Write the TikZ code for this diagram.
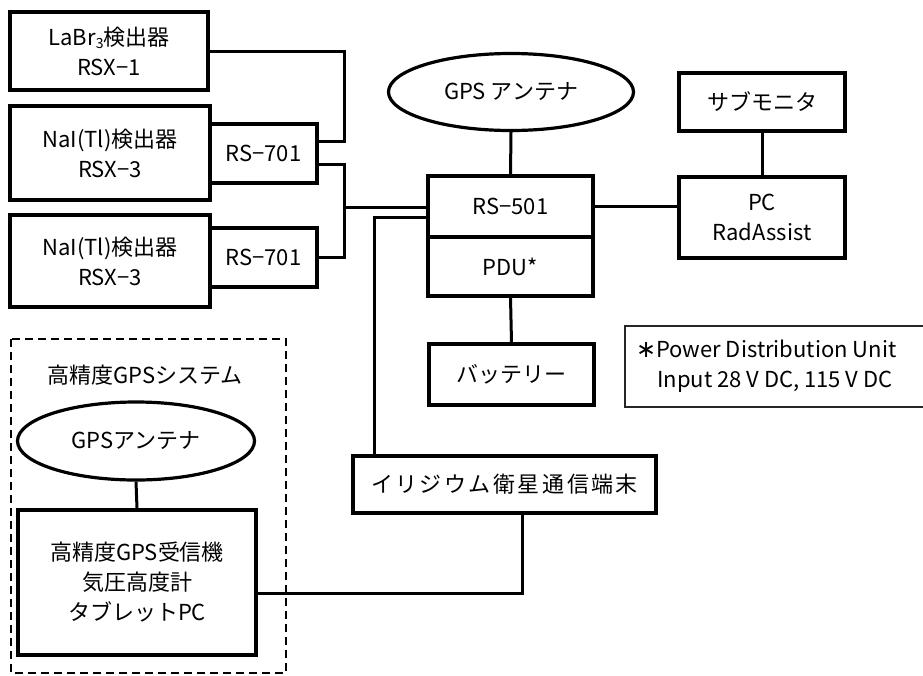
\documentclass[tikz,border=0pt]{standalone}
\usepackage{fontspec}
\setmainfont{Noto Sans CJK JP}
\newfontfamily\symfont{DejaVu Sans}
\usetikzlibrary{shapes.geometric}
\newcommand\lowthree{\raisebox{-0.3ex}{\fontsize{14}{14}\selectfont 3}}
\newcommand\ks{\kern2.5pt}
\newcommand\notestar{\makebox[20pt][l]{{\symfont\fontsize{24}{24}\selectfont ∗}}}
\tikzset{
  txt/.style={font=\fontsize{22}{30}\selectfont, align=center},
  box/.style={txt, draw, rectangle, line width=3.2pt, inner sep=0pt},
  oval/.style={txt, draw, ellipse, line width=3.2pt, inner sep=0pt},
  wire/.style={line width=3pt},
  groupframe/.style={line width=2pt, dash pattern=on 8pt off 5pt},
  notebox/.style={draw=black!85, rectangle, line width=2pt, inner sep=0pt},
}
\begin{document}
\begin{tikzpicture}[x=1pt,y=-1pt]
\clip (0,0) rectangle (923,675);
% detectors
\node[box, minimum width=198pt, minimum height=78pt] (labr) at (109,51) {LaBr\lowthree 検出器\\RSX−1};
\node[box, minimum width=200pt, minimum height=94pt] (nai1) at (110,153) {NaI(Tl)検出器\\RSX−3};
\node[box, minimum width=107pt, minimum height=59pt] (rs701a) at (263.5,153.5) {RS−701};
\node[box, minimum width=200pt, minimum height=92pt] (nai2) at (110,261) {NaI(Tl)検出器\\RSX−3};
\node[box, minimum width=107pt, minimum height=59pt] (rs701b) at (263.5,257.5) {RS−701};
% central
\node[oval, minimum width=245pt, minimum height=77pt] (gps) at (511,92) {GPS アンテナ};
\node[box, minimum width=165pt, minimum height=61pt] (rs501) at (510.5,206.5) {RS−501};
\node[box, minimum width=165pt, minimum height=59pt] (pdu) at (510.5,266.5) {PDU*};
\node[box, minimum width=165pt, minimum height=61pt] (batt) at (511.5,374.5) {バッテリー};
\node[box, minimum width=166pt, minimum height=58pt] (sub) at (762,102) {サブモニタ};
\node[box, minimum width=166pt, minimum height=81pt] (pc) at (762,217.5) {PC\\RadAssist};
\node[box, minimum width=303pt, minimum height=57pt] (iridium) at (504.5,484.5) {イ\ks リ\ks ジ\ks ウ\ks ム\ks 衛\ks 星\ks 通\ks 信\ks 端\ks 末};
% note
\node[notebox, minimum width=320pt, minimum height=81pt, anchor=north west] (note) at (624,325) {};
\node[txt, align=left, anchor=west, inner sep=0pt] (notetext) at (636,366) {\notestar Power Distribution Unit\\\hspace*{21pt}Input 28 V DC, 115 V DC};
% high precision GPS system
\draw[groupframe] (11,339) rectangle (286,673);
\node[txt] (systitle) at (145,375) {高精度GPSシステム};
\node[oval, minimum width=237pt, minimum height=78pt] (gps2) at (136,441) {GPSアンテナ};
\node[box, minimum width=238pt, minimum height=145pt] (recv) at (137,582.5) {高精度GPS受信機\\気圧高度計\\タブレットPC};
% connectors
\coordinate (jA) at (344,100);
\coordinate (jB) at (344,207);
\draw[wire] (labr.east) -| (jA) |- ([yshift=12pt]rs701a.east);
\draw[wire] ([yshift=-10.5pt]rs701a.east) -| (jB) |- (rs701b.east);
\draw[wire] (jB) -- (jB -| rs501.west);
\draw[wire] ([yshift=-10.5pt]rs501.west) -| ([xshift=23pt]iridium.north west);
\draw[wire] (gps.south) -- (rs501.north);
\draw[wire] (rs501.east) -- (rs501.east -| pc.west);
\draw[wire] (sub.south) -- (pc.north);
\draw[wire] (pdu.south) -- (batt.north);
\draw[wire] ([xshift=17.5pt]iridium.south) |- ([yshift=-10.5pt]recv.east);
\draw[wire] (gps2.south) -- (recv.north);
\end{tikzpicture}
\end{document}
